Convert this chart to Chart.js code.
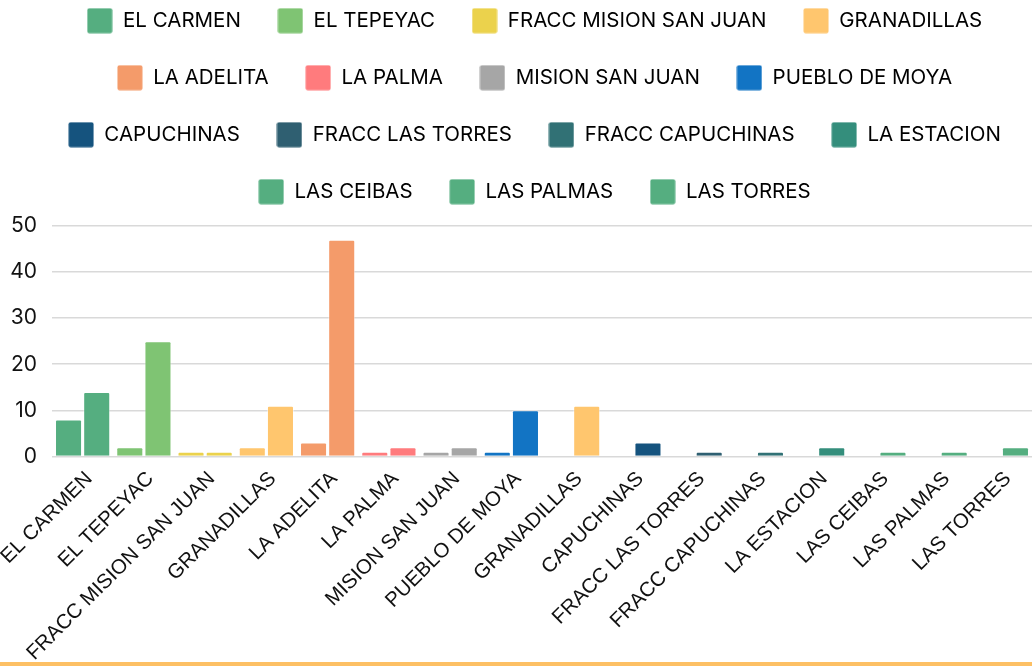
<!DOCTYPE html>
<html><head><meta charset="utf-8">
<script src="https://cdn.jsdelivr.net/npm/chart.js@4.4.0/dist/chart.umd.min.js"></script>
<style>
html,body{margin:0;padding:0;background:#fff;width:1032px;height:666px;overflow:hidden;position:relative}
#wrap{position:absolute;left:0;top:-26px;width:1032px;height:702px}
#line{position:absolute;left:0;top:662px;width:1032px;height:4px;background:#FDC064}
</style></head><body>
<div id="wrap"><canvas id="c"></canvas></div>
<div id="line"></div>
<script>
const categories = ["EL CARMEN","EL TEPEYAC","FRACC MISION SAN JUAN","GRANADILLAS","LA ADELITA","LA PALMA","MISION SAN JUAN","PUEBLO DE MOYA","GRANADILLAS","CAPUCHINAS","FRACC LAS TORRES","FRACC CAPUCHINAS","LA ESTACION","LAS CEIBAS","LAS PALMAS","LAS TORRES"];
const firstValues  = [8, 2, 1, 2, 3, 1, 1, 1, null, null, null, null, null, null, null, null];
const secondValues = [14, 25, 1, 11, 47, 2, 2, 10, 11, 3, 1, 1, 2, 1, 1, 2];
const legendNames = ["EL CARMEN","EL TEPEYAC","FRACC MISION SAN JUAN","GRANADILLAS","LA ADELITA","LA PALMA","MISION SAN JUAN","PUEBLO DE MOYA","CAPUCHINAS","FRACC LAS TORRES","FRACC CAPUCHINAS","LA ESTACION","LAS CEIBAS","LAS PALMAS","LAS TORRES"];
const legendColors = ["#55AE80","#7FC473","#EBD24C","#FFC66E","#F49B6A","#FF7B7D","#A6A6A6","#1274C4","#15537E","#2F5F71","#317175","#348E7C","#55AE80","#55AE80","#55AE80"];
const yMin = 0, yMax = 50, yStep = 10;

const colorFor = name => legendColors[legendNames.indexOf(name)];
const barColors = categories.map(colorFor);

function swatch(color) {
  const c = document.createElement('canvas');
  c.width = 26; c.height = 26;
  const g = c.getContext('2d');
  g.fillStyle = 'rgba(255,255,255,0.6)';
  g.beginPath(); g.roundRect(0, 0, 26, 26, 2); g.fill();
  g.fillStyle = color;
  g.beginPath(); g.roundRect(0.5, 0.5, 25, 25, 2); g.fill();
  return c;
}
const swatches = legendColors.map(swatch);

const legendTweak = {
  id: 'legendTweak',
  beforeInit(chart) {
    const origFit = chart.legend.fit;
    chart.legend.fit = function () { origFit.call(this); this.height += 14; };
  },
  afterLayout(chart) { chart.legend.left += 13; chart.legend.right += 13; }
};

new Chart(document.getElementById('c'), {
  type: 'bar',
  data: {
    labels: categories,
    datasets: [
      { label: 'A', data: firstValues, backgroundColor: barColors, borderColor: 'rgba(255,255,255,0.45)', borderWidth: 1, borderRadius: 2 },
      { label: 'B', data: secondValues, backgroundColor: barColors, borderColor: 'rgba(255,255,255,0.45)', borderWidth: 1, borderRadius: 2 }
    ]
  },
  options: {
    responsive: true,
    maintainAspectRatio: false,
    animation: false,
    layout: { padding: { left: 11, right: 0, top: 0, bottom: 0 } },
    datasets: { bar: { categoryPercentage: 0.92, barPercentage: 0.96 } },
    plugins: {
      tooltip: { enabled: false },
      legend: {
        position: 'top',
        labels: {
          usePointStyle: true, pointStyleWidth: 26, padding: 36.5,
          color: '#111',
          font: { family: 'Inter', size: 20.5 },
          generateLabels: () => legendNames.map((n, i) => ({
            text: n, fillStyle: legendColors[i], strokeStyle: legendColors[i], lineWidth: 0,
            pointStyle: swatches[i], hidden: false, datasetIndex: 0
          }))
        }
      }
    },
    scales: {
      x: {
        grid: { display: false, drawTicks: false },
        border: { display: false },
        ticks: { color: '#111', font: { family: 'Liberation Sans', size: 20.5 }, minRotation: 45, maxRotation: 45, padding: 10.5, labelOffset: 6.5, autoSkip: false },
        afterFit(scale) { scale.paddingLeft = 0; }
      },
      y: {
        min: yMin, max: yMax,
        grid: { color: '#D9D9D9', lineWidth: 1.5, drawTicks: false },
        border: { display: false },
        ticks: { stepSize: yStep, color: '#111', font: { family: 'Inter', size: 21 }, padding: 15 },
        afterFit(scale) { scale.width = 41; }
      }
    }
  },
  plugins: [legendTweak]
});
</script>
</body></html>
